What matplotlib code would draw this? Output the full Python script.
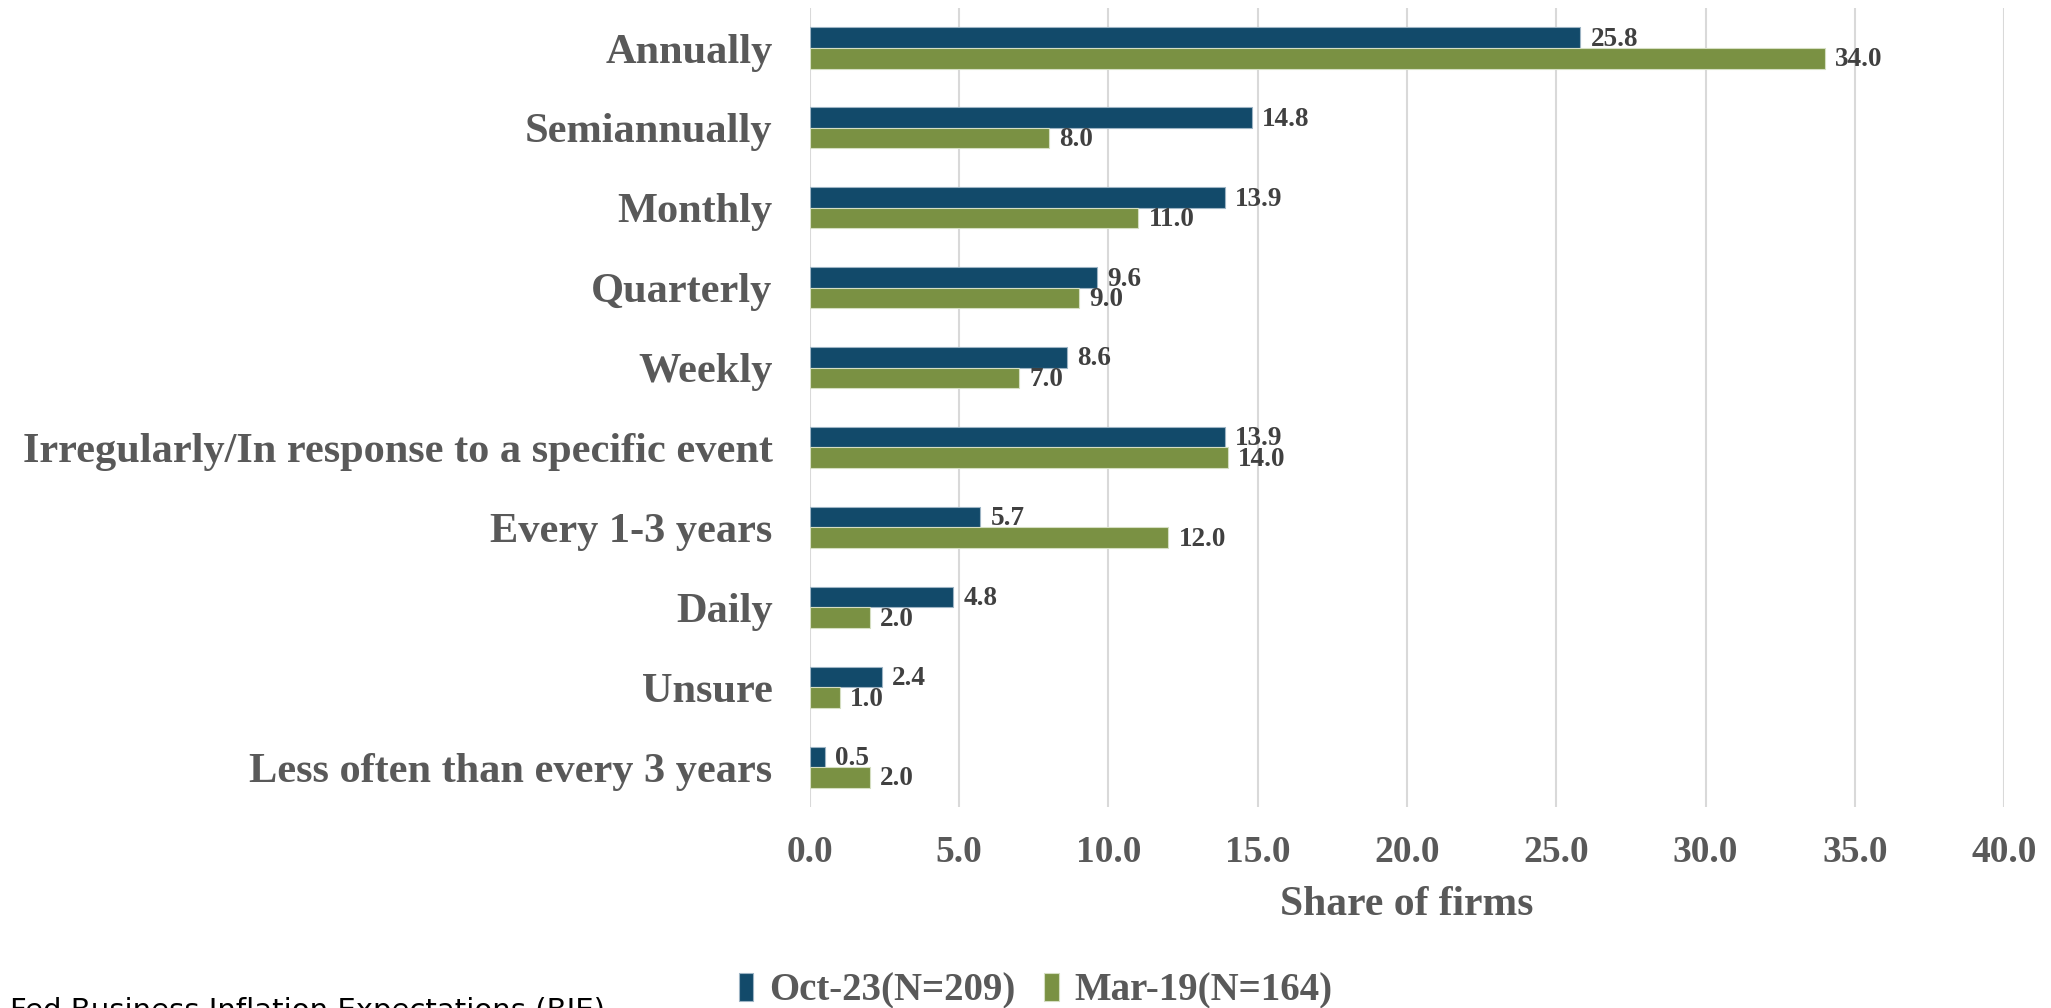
import matplotlib
matplotlib.use('Agg')
import matplotlib.pyplot as plt
import numpy as np

# data, top to bottom as in the chart
categories = ['Annually', 'Semiannually', 'Monthly', 'Quarterly', 'Weekly',
              'Irregularly/In response to a specific event', 'Every 1-3 years',
              'Daily', 'Unsure', 'Less often than every 3 years']
oct23 = [25.8, 14.8, 13.9, 9.6, 8.6, 13.9, 5.7, 4.8, 2.4, 0.5]
mar19 = [34.0, 8.0, 11.0, 9.0, 7.0, 14.0, 12.0, 2.0, 1.0, 2.0]
series_names = ['Oct-23(N=209)', 'Mar-19(N=164)']
xticks = [0, 5, 10, 15, 20, 25, 30, 35, 40]

blue = '#124A6A'
green = '#7A9143'
gray_txt = '#595959'
val_txt = '#404040'
serif = 'Liberation Serif'

fig = plt.figure(figsize=(20.51, 10.08), dpi=100)
ax = fig.add_axes([0.3949, 0.1994, 0.5822, 0.7926])

y = np.arange(len(categories))
h = 0.257
b1 = ax.barh(y - h / 2, oct23, height=h, color=blue, edgecolor='#9DB4C4',
             linewidth=0.8, label=series_names[0], zorder=3)
b2 = ax.barh(y + h / 2, mar19, height=h, color=green, edgecolor='#D5DEC2',
             linewidth=0.8, label=series_names[1], zorder=3)

# value labels
for bars, vals in ((b1, oct23), (b2, mar19)):
    for rect, v in zip(bars, vals):
        ax.text(v + 0.35, rect.get_y() + rect.get_height() / 2 + 0.02, f'{v:.1f}',
                va='center', ha='left', fontsize=19.5, fontweight='bold',
                color=val_txt, family=serif, zorder=4)

ax.set_ylim(len(categories) - 0.5, -0.5)
ax.set_xlim(0, 40)
ax.set_yticks(y)
ax.set_yticklabels(categories, fontsize=30.5, fontweight='bold', color=gray_txt,
                   family=serif)
ax.set_xticks(xticks)
ax.set_xticklabels([f'{t:.1f}' for t in xticks], fontsize=27, fontweight='bold',
                   color=gray_txt, family=serif)
ax.tick_params(axis='y', length=0, pad=27)
ax.tick_params(axis='x', length=0, pad=20)
ax.set_xlabel('Share of firms', fontsize=30, fontweight='bold', color=gray_txt,
              family=serif, labelpad=12)

ax.grid(axis='x', color='#D9D9D9', linewidth=1.5, zorder=0)
ax.set_axisbelow(True)
for s in ax.spines.values():
    s.set_visible(False)

leg = fig.legend(loc='center', bbox_to_anchor=(0.505, 0.017), ncol=2,
                 frameon=False, handlelength=0.38, handleheight=0.75,
                 handletextpad=0.4, columnspacing=0.75,
                 prop={'family': serif, 'weight': 'bold', 'size': 28})
for t in leg.get_texts():
    t.set_color(gray_txt)

fig.text(0.005, 0.0105, 'Fed Business Inflation Expectations (BIE)',
         ha='left', va='top', fontsize=21, color='black', family='DejaVu Sans')

fig.savefig('out.png', dpi=100)
